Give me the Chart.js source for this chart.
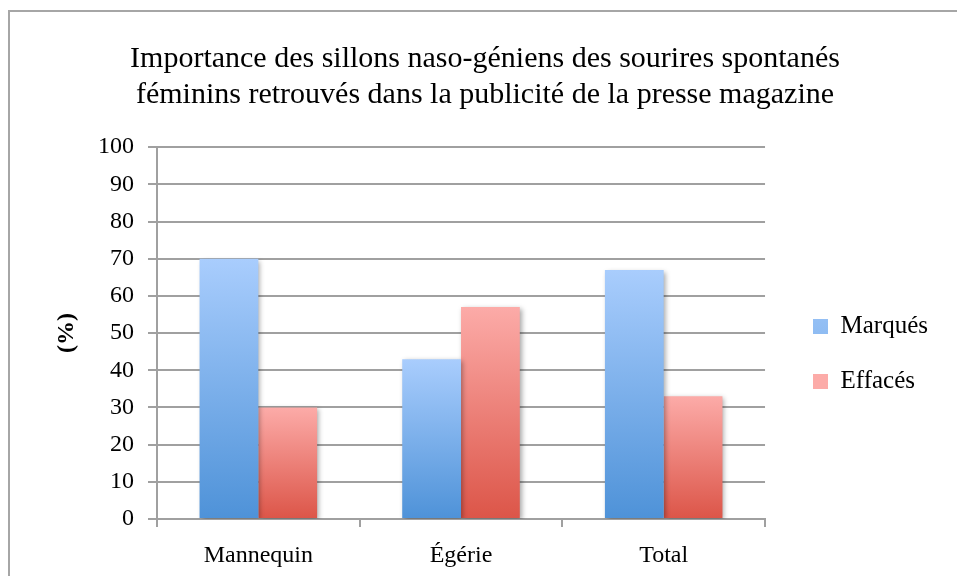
<!DOCTYPE html>
<html>
<head>
<meta charset="utf-8">
<script src="https://cdn.jsdelivr.net/npm/chart.js@4.4.0/dist/chart.umd.min.js"></script>
<style>
  html, body { margin: 0; padding: 0; background: #fff; }
  #wrap { width: 957px; height: 576px; }
</style>
</head>
<body>
<div id="wrap"><canvas id="barChart" width="957" height="576"></canvas></div>
<script>
// data
var categories = ['Mannequin', 'Égérie', 'Total'];
var marques = [70, 43, 67];
var effaces = [30, 57, 33];
var seriesNames = ['Marqués', 'Effacés'];
var yTicks = [0, 10, 20, 30, 40, 50, 60, 70, 80, 90, 100];
var titleLines = ['Importance des sillons naso-géniens des sourires spontanés',
                  'féminins retrouvés dans la publicité de la presse magazine'];

var serif = "'Liberation Serif', 'DejaVu Serif', serif";
var gridGray = '#a0a0a0';

// vertical gradient per bar, light on top, dark at the base
function barFill(top, bottom, flat) {
  return function (ctx) {
    var chart = ctx.chart;
    if (!chart.chartArea || !ctx.parsed) return flat;
    var y = chart.scales.y;
    var y0 = y.getPixelForValue(0);
    var y1 = y.getPixelForValue(ctx.parsed.y);
    if (!isFinite(y0) || !isFinite(y1) || y0 === y1) return flat;
    var g = chart.ctx.createLinearGradient(0, y1, 0, y0);
    g.addColorStop(0, top);
    g.addColorStop(1, bottom);
    return g;
  };
}

// grey frame round the whole chart, soft shadow under bars,
// and nudge the legend away from the plot
var framePlugin = {
  id: 'frame',
  afterLayout: function (chart) {
    var lg = chart.legend;
    if (!lg) return;
    lg.left += 18; lg.right += 18;
    lg.top += 66; lg.bottom += 66;
  },
  beforeDraw: function (chart) {
    var c = chart.ctx;
    c.save();
    c.strokeStyle = '#a6a6a6';
    c.lineWidth = 2;
    c.strokeRect(9, 11, 1000, 1000);
    c.restore();
  },
  beforeDatasetsDraw: function (chart) {
    var c = chart.ctx;
    c.save();
    c.shadowColor = 'rgba(0,0,0,0.35)';
    c.shadowBlur = 5;
    c.shadowOffsetX = 2;
    c.shadowOffsetY = 2;
  },
  afterDatasetsDraw: function (chart) {
    chart.ctx.restore();
  }
};

document.addEventListener("DOMContentLoaded", () => {
  new Chart(document.querySelector('#barChart'), {
    type: 'bar',
    data: {
      labels: categories,
      datasets: [{
        label: seriesNames[0],
        data: marques,
        backgroundColor: barFill('#a9cdfd', '#4e92d8', '#7db1ee'),
        borderWidth: 0
      },
      {
        label: seriesNames[1],
        data: effaces,
        backgroundColor: barFill('#fcaba8', '#dc5548', '#ef8680'),
        borderWidth: 0
      }]
    },
    plugins: [framePlugin],
    options: {
      responsive: false,
      animation: false,
      devicePixelRatio: 1,
      layout: { padding: { left: 50, right: 37, top: 0, bottom: 0 } },
      datasets: { bar: { categoryPercentage: 0.58, barPercentage: 1 } },
      plugins: {
        title: {
          display: true,
          text: titleLines,
          color: '#000',
          font: { family: serif, size: 30, weight: 'normal', lineHeight: 1.17 },
          padding: { top: 42, bottom: 35 }
        },
        legend: {
          position: 'right',
          labels: {
            color: '#000',
            font: { family: serif, size: 25 },
            boxWidth: 15,
            boxHeight: 15,
            padding: 30
          }
        },
        tooltip: { enabled: false }
      },
      scales: {
        x: {
          grid: { offset: true, drawOnChartArea: false, drawTicks: true, tickLength: 8, color: gridGray, lineWidth: 2 },
          border: { color: gridGray, width: 2 },
          ticks: { color: '#000', font: { family: serif, size: 24 }, padding: 14 },
          afterFit: function (scale) { scale.height = 57; }
        },
        y: {
          min: 0,
          max: 100,
          afterBuildTicks: function (scale) {
            scale.ticks = yTicks.map(function (v) { return { value: v }; });
          },
          grid: { color: gridGray, lineWidth: 2, tickLength: 9 },
          border: { color: gridGray, width: 2 },
          ticks: { color: '#000', font: { family: serif, size: 24 }, padding: 14 },
          title: {
            display: true,
            text: '(%)',
            color: '#000',
            font: { family: serif, size: 24, weight: 'bold', lineHeight: 1.15 },
            padding: { top: 3, bottom: 0 }
          },
          afterFit: function (scale) { scale.width = 107; }
        }
      }
    }
  });
});
</script>
</body>
</html>
